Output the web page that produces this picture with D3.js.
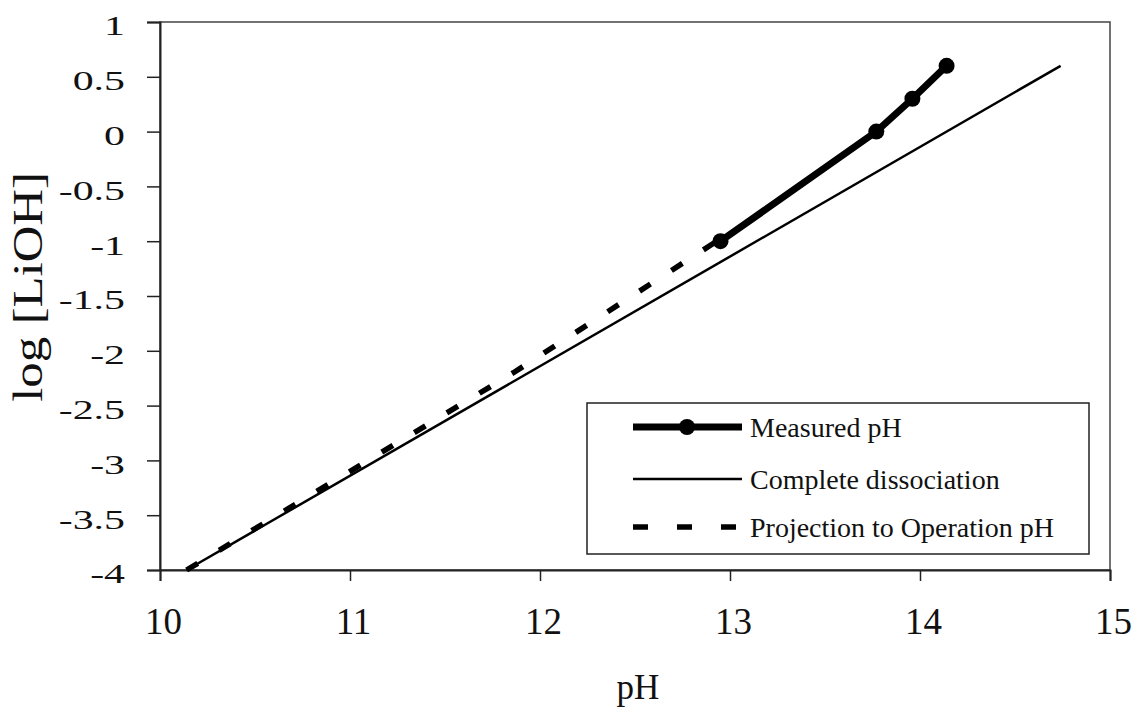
<!DOCTYPE html>
<html>
<head>
<meta charset="utf-8">
<script src="https://cdn.jsdelivr.net/npm/d3@7"></script>
<style>
  body { margin: 0; background: #fff; }
  svg { display: block; font-family: "Liberation Serif", "Times New Roman", serif; }
</style>
</head>
<body>
<div class="canvas"></div>
<script>
// data
const measuredPH = [12.95, 13.77, 13.96, 14.14];
const measuredLog = [-1, 0, 0.3, 0.6];
const completePH = [10.14, 14.74];
const completeLog = [-4, 0.6];
const projectionPH = [10.14, 11.86, 12.93];
const projectionLog = [-4, -2.2, -1];
const xTicks = [10, 11, 12, 13, 14, 15];
const yTicks = [1, 0.5, 0, -0.5, -1, -1.5, -2, -2.5, -3, -3.5, -4];
const legendNames = ['Measured pH', 'Complete dissociation', 'Projection to Operation pH'];

const svg = d3.select('.canvas')
	.append('svg')
	.attr('width', 1134)
	.attr('height', 709);

const margin = {top: 22, right: 24, bottom: 139, left: 160};
const graphWidth = 1134 - margin.left - margin.right;
const graphHeight = 709 - margin.top - margin.bottom;

const graph = svg.append('g')
	.attr('transform', `translate(${margin.left},${margin.top})`);

const x = d3.scaleLinear().domain([10, 15]).range([0, graphWidth]);
const y = d3.scaleLinear().domain([-4, 1]).range([graphHeight, 0]);

// plot frame
graph.append('rect')
	.attr('width', graphWidth)
	.attr('height', graphHeight)
	.attr('fill', 'none')
	.attr('stroke', '#444')
	.attr('stroke-width', 1.5);

// axes
const xAxis = d3.axisBottom(x).tickValues(xTicks).tickSize(11).tickPadding(27).tickFormat(d3.format('d'));
const yAxis = d3.axisLeft(y).tickValues(yTicks).tickSize(13).tickFormat(d => d3.format('')(d).replace('−', '-'));

const xAxisGroup = graph.append('g')
	.attr('transform', `translate(0,${graphHeight})`)
	.call(xAxis);
const yAxisGroup = graph.append('g').call(yAxis);

[xAxisGroup, yAxisGroup].forEach(g => {
	g.select('.domain').attr('stroke', '#222').attr('stroke-width', 2);
	g.selectAll('.tick line').attr('stroke', '#222').attr('stroke-width', 1.5);
	g.selectAll('text').attr('fill', '#111').attr('font-family', '"Liberation Serif", serif');
});
xAxisGroup.selectAll('text').attr('font-size', 37).attr('dx', 3);
// y labels in the picture are drawn wide
yAxisGroup.selectAll('text')
	.attr('font-size', 27)
	.attr('x', 0)
	.attr('dy', '0.48em')
	.attr('transform', 'translate(-35,0) scale(1.55,1)');

// axis titles
svg.append('text')
	.attr('x', 638)
	.attr('y', 699)
	.attr('text-anchor', 'middle')
	.attr('font-size', 35)
	.attr('fill', '#111')
	.text('pH');

svg.append('text')
	.attr('transform', 'translate(42,287) rotate(-90) scale(1.18,1)')
	.attr('text-anchor', 'middle')
	.attr('font-size', 43)
	.attr('fill', '#111')
	.text('log [LiOH]');

const line = d3.line().x(d => x(d[0])).y(d => y(d[1]));

// complete dissociation
graph.append('path')
	.datum(d3.zip(completePH, completeLog))
	.attr('d', line)
	.attr('fill', 'none')
	.attr('stroke', '#000')
	.attr('stroke-width', 2.5);

// projection
graph.append('path')
	.datum(d3.zip(projectionPH, projectionLog))
	.attr('d', line)
	.attr('fill', 'none')
	.attr('stroke', '#000')
	.attr('stroke-width', 5.5)
	.attr('stroke-dasharray', '13,25');

// measured
const measured = d3.zip(measuredPH, measuredLog);
graph.append('path')
	.datum(measured)
	.attr('d', line)
	.attr('fill', 'none')
	.attr('stroke', '#000')
	.attr('stroke-width', 7);

graph.selectAll('circle.pt')
	.data(measured)
	.enter()
	.append('circle')
	.attr('class', 'pt')
	.attr('cx', d => x(d[0]))
	.attr('cy', d => y(d[1]))
	.attr('r', 8)
	.attr('fill', '#000');

// legend
const legend = svg.append('g').attr('transform', 'translate(587,403)');
legend.append('rect')
	.attr('width', 502)
	.attr('height', 151)
	.attr('fill', '#fff')
	.attr('stroke', '#222')
	.attr('stroke-width', 1.5);

const rowY = [24, 76, 124];
const styles = [
	{w: 7, dash: null, dot: true},
	{w: 2.5, dash: null, dot: false},
	{w: 5.5, dash: '15,29', dot: false}
];

legendNames.forEach((name, i) => {
	const row = legend.append('g').attr('transform', `translate(0,${rowY[i]})`);
	row.append('line')
		.attr('x1', 46)
		.attr('x2', 155)
		.attr('stroke', '#000')
		.attr('stroke-width', styles[i].w)
		.attr('stroke-dasharray', styles[i].dash);
	if (styles[i].dot) {
		row.append('circle').attr('cx', 100).attr('r', 8).attr('fill', '#000');
	}
	row.append('text')
		.attr('x', 163)
		.attr('dy', '0.35em')
		.attr('font-size', 28)
		.attr('fill', '#111')
		.text(name);
});
</script>
</body>
</html>
